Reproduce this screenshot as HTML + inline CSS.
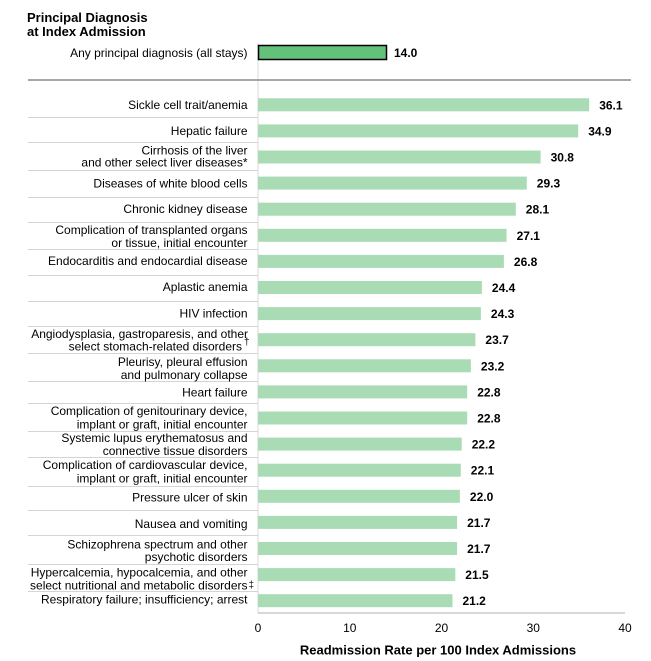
<!DOCTYPE html>
<html>
<head>
<meta charset="utf-8">
<style>
  html,body{margin:0;padding:0;background:#fff;}
  svg{display:block;}
  text{font-family:"Liberation Sans",Arial,sans-serif;fill:#000;}
  .lab{font-size:12px;text-anchor:end;}
  .val{font-size:12px;font-weight:bold;}
  .tick{font-size:12px;text-anchor:middle;}
</style>
</head>
<body>
<svg width="651" height="661" viewBox="0 0 651 661" xmlns="http://www.w3.org/2000/svg">
  <!-- Title -->
  <text x="27" y="22" style="font-size:13px;font-weight:bold;">Principal Diagnosis</text>
  <text x="27" y="36" style="font-size:13px;font-weight:bold;">at Index Admission</text>

  <!-- vertical axis line -->
  <line x1="258" y1="43" x2="258" y2="613" stroke="#d9d9d9" stroke-width="1"/>

  <!-- Any principal diagnosis -->
  <text class="lab" x="247.5" y="57">Any principal diagnosis (all stays)</text>
  <rect x="258.5" y="45.5" width="128" height="14" fill="#64c17a" stroke="#000" stroke-width="1.5"/>
  <text class="val" x="394" y="57">14.0</text>

  <!-- horizontal separator -->
  <line x1="28" y1="80" x2="631" y2="80" stroke="#8a8a8a" stroke-width="1.5"/>

  <!-- row separators -->
  <g stroke="#d4d4d4" stroke-width="1">
    <line x1="28" y1="117.5" x2="258" y2="117.5"/>
    <line x1="28" y1="142.5" x2="258" y2="142.5"/>
    <line x1="28" y1="170.5" x2="258" y2="170.5"/>
    <line x1="28" y1="197.5" x2="258" y2="197.5"/>
    <line x1="28" y1="222.5" x2="258" y2="222.5"/>
    <line x1="28" y1="249.5" x2="258" y2="249.5"/>
    <line x1="28" y1="275.5" x2="258" y2="275.5"/>
    <line x1="28" y1="301.5" x2="258" y2="301.5"/>
    <line x1="28" y1="326.5" x2="258" y2="326.5"/>
    <line x1="28" y1="353.5" x2="258" y2="353.5"/>
    <line x1="28" y1="381.5" x2="258" y2="381.5"/>
    <line x1="28" y1="403.5" x2="258" y2="403.5"/>
    <line x1="28" y1="431.5" x2="258" y2="431.5"/>
    <line x1="28" y1="457.5" x2="258" y2="457.5"/>
    <line x1="28" y1="486.5" x2="258" y2="486.5"/>
    <line x1="28" y1="510.5" x2="258" y2="510.5"/>
    <line x1="28" y1="535.5" x2="258" y2="535.5"/>
    <line x1="28" y1="564.5" x2="258" y2="564.5"/>
    <line x1="28" y1="591.5" x2="258" y2="591.5"/>
  </g>

  <!-- bars -->
  <g fill="#a9dcb5">
    <rect x="258" y="98.3" width="331.2" height="13"/>
    <rect x="258" y="124.4" width="320.2" height="13"/>
    <rect x="258" y="150.5" width="282.6" height="13"/>
    <rect x="258" y="176.6" width="268.8" height="13"/>
    <rect x="258" y="202.7" width="257.8" height="13"/>
    <rect x="258" y="228.8" width="248.6" height="13"/>
    <rect x="258" y="254.9" width="245.9" height="13"/>
    <rect x="258" y="281.0" width="223.9" height="13"/>
    <rect x="258" y="307.1" width="222.9" height="13"/>
    <rect x="258" y="333.2" width="217.4" height="13"/>
    <rect x="258" y="359.3" width="212.9" height="13"/>
    <rect x="258" y="385.4" width="209.2" height="13"/>
    <rect x="258" y="411.5" width="209.2" height="13"/>
    <rect x="258" y="437.6" width="203.7" height="13"/>
    <rect x="258" y="463.7" width="202.8" height="13"/>
    <rect x="258" y="489.8" width="201.9" height="13"/>
    <rect x="258" y="515.9" width="199.1" height="13"/>
    <rect x="258" y="542.0" width="199.1" height="13"/>
    <rect x="258" y="568.1" width="197.3" height="13"/>
    <rect x="258" y="594.2" width="194.5" height="13"/>
  </g>

  <!-- value labels -->
  <text class="val" x="599.2" y="109.3">36.1</text>
  <text class="val" x="588.2" y="135.4">34.9</text>
  <text class="val" x="550.6" y="161.5">30.8</text>
  <text class="val" x="536.8" y="187.6">29.3</text>
  <text class="val" x="525.8" y="213.7">28.1</text>
  <text class="val" x="516.6" y="239.8">27.1</text>
  <text class="val" x="513.9" y="265.9">26.8</text>
  <text class="val" x="491.9" y="292.0">24.4</text>
  <text class="val" x="490.9" y="318.1">24.3</text>
  <text class="val" x="485.4" y="344.2">23.7</text>
  <text class="val" x="480.9" y="370.3">23.2</text>
  <text class="val" x="477.2" y="396.4">22.8</text>
  <text class="val" x="477.2" y="422.5">22.8</text>
  <text class="val" x="471.7" y="448.6">22.2</text>
  <text class="val" x="470.8" y="474.7">22.1</text>
  <text class="val" x="469.9" y="500.8">22.0</text>
  <text class="val" x="467.1" y="526.9">21.7</text>
  <text class="val" x="467.1" y="553.0">21.7</text>
  <text class="val" x="465.3" y="579.1">21.5</text>
  <text class="val" x="462.5" y="605.2">21.2</text>

  <!-- category labels -->
  <text class="lab" x="247.5" y="109">Sickle cell trait/anemia</text>
  <text class="lab" x="247.5" y="135">Hepatic failure</text>
  <text class="lab" x="247.5" y="154.3">Cirrhosis of the liver</text>
  <text class="lab" x="247.5" y="166.5">and other select liver diseases*</text>
  <text class="lab" x="247.5" y="187.5">Diseases of white blood cells</text>
  <text class="lab" x="247.5" y="213">Chronic kidney disease</text>
  <text class="lab" x="247.5" y="234">Complication of transplanted organs</text>
  <text class="lab" x="247.5" y="247">or tissue, initial encounter</text>
  <text class="lab" x="247.5" y="265">Endocarditis and endocardial disease</text>
  <text class="lab" x="247.5" y="291">Aplastic anemia</text>
  <text class="lab" x="247.5" y="317.5">HIV infection</text>
  <text class="lab" x="248" y="338">Angiodysplasia, gastroparesis, and other</text>
  <text class="lab" x="242" y="350.7">select stomach-related disorders</text>
  <text x="244" y="345" style="font-size:10px;">†</text>
  <text class="lab" x="247.5" y="366">Pleurisy, pleural effusion</text>
  <text class="lab" x="247.5" y="379">and pulmonary collapse</text>
  <text class="lab" x="247.5" y="396.5">Heart failure</text>
  <text class="lab" x="247.5" y="415">Complication of genitourinary device,</text>
  <text class="lab" x="247.5" y="428.5">implant or graft, initial encounter</text>
  <text class="lab" x="247.5" y="442">Systemic lupus erythematosus and</text>
  <text class="lab" x="247.5" y="455">connective tissue disorders</text>
  <text class="lab" x="247.5" y="469">Complication of cardiovascular device,</text>
  <text class="lab" x="247.5" y="482.5">implant or graft, initial encounter</text>
  <text class="lab" x="247.5" y="501.5">Pressure ulcer of skin</text>
  <text class="lab" x="247.5" y="528">Nausea and vomiting</text>
  <text class="lab" x="247.5" y="548.5">Schizophrena spectrum and other</text>
  <text class="lab" x="247.5" y="561">psychotic disorders</text>
  <text class="lab" x="247.5" y="576.5">Hypercalcemia, hypocalcemia, and other</text>
  <text class="lab" x="247.5" y="589.3">select nutritional and metabolic disorders</text>
  <text x="248.5" y="588" style="font-size:10px;">‡</text>
  <text class="lab" x="247.5" y="603.5">Respiratory failure; insufficiency; arrest</text>

  <!-- x axis -->
  <line x1="258" y1="613" x2="625" y2="613" stroke="#bfbfbf" stroke-width="1.2"/>
  <text class="tick" x="258" y="632">0</text>
  <text class="tick" x="349.75" y="632">10</text>
  <text class="tick" x="441.5" y="632">20</text>
  <text class="tick" x="533.25" y="632">30</text>
  <text class="tick" x="625" y="632">40</text>
  <text x="438" y="654.5" style="font-size:13px;font-weight:bold;text-anchor:middle;">Readmission Rate per 100 Index Admissions</text>
</svg>
</body>
</html>
